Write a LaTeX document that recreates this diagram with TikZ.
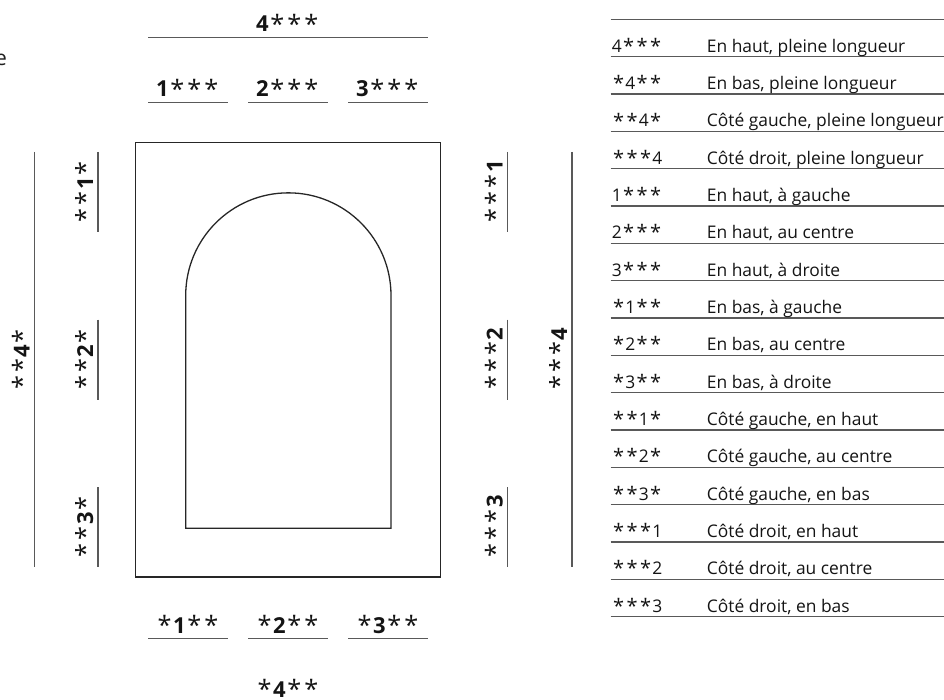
\documentclass[tikz,border=0pt]{standalone}
\usepackage{fontspec}
\setmainfont{Open Sans}
\usepackage{graphicx}
\newcommand\st{\kern0.07em\raisebox{-0.12ex}{\scalebox{1.15}{*}}\kern0.07em}
\begin{document}
\begin{tikzpicture}[x=1pt,y=-1pt,
  lbl/.style={font=\fontsize{22}{22}\selectfont, text=black!92, inner sep=0pt, anchor=base},
  slbl/.style={lbl, rotate=90},
  tbl/.style={font=\fontsize{17.4}{18}\selectfont, text=black!92, inner sep=0pt, anchor=base west},
  uline/.style={draw=black!65, line width=1.2pt},
  tline/.style={draw=black!65, line width=1.3pt},
  frame/.style={draw=black!85, line width=1.3pt},
]
\useasboundingbox (0,0) rectangle (944,700);
% fragment of text at left edge
\node[font=\fontsize{21}{21}\selectfont, text=black!88, inner sep=0pt, anchor=base east] (frag) at (7,66) {e};

% frame and arch
\draw[frame] (135.7,142.3) rectangle (440.7,577);
\draw[frame] (185.7,528.3) -- (185.7,295.5) arc[start angle=180, end angle=360, radius=102.65] -- (391,528.3) -- cycle;

% top labels
\node[lbl] (t4) at (288,31.7) {\textbf{4}\st\st\st};
\draw[uline] (148,37.3) -- (428,37.3);
\node[lbl] (t1) at (188,97) {\textbf{1}\st\st\st};
\node[lbl] (t2) at (288,97) {\textbf{2}\st\st\st};
\node[lbl] (t3) at (388,97) {\textbf{3}\st\st\st};
\draw[uline] (148,102.7) -- (228,102.7);
\draw[uline] (248,102.7) -- (328,102.7);
\draw[uline] (348,102.7) -- (428,102.7);

% bottom labels
\node[lbl] (b1) at (188,633.3) {\st\textbf{1}\st\st};
\node[lbl] (b2) at (288,633.3) {\st\textbf{2}\st\st};
\node[lbl] (b3) at (388,633.3) {\st\textbf{3}\st\st};
\draw[uline] (148,638.3) -- (228,638.3);
\draw[uline] (248,638.3) -- (328,638.3);
\draw[uline] (348,638.3) -- (428,638.3);
\node[lbl] (b4) at (288,697) {\st\textbf{4}\st\st};

% left labels
\node[slbl] (l4) at (29.7,359.5) {\st\st\textbf{4}\st};
\draw[uline] (34.7,152) -- (34.7,567);
\node[slbl] (l1) at (93,192) {\st\st\textbf{1}\st};
\node[slbl] (l2) at (93,359.5) {\st\st\textbf{2}\st};
\node[slbl] (l3) at (93,527) {\st\st\textbf{3}\st};
\draw[uline] (98,152) -- (98,232);
\draw[uline] (98,319.5) -- (98,399.5);
\draw[uline] (98,487) -- (98,567);

% right labels
\node[slbl] (r1) at (502.7,192) {\st\st\st\textbf{1}};
\node[slbl] (r2) at (502.7,359.5) {\st\st\st\textbf{2}};
\node[slbl] (r3) at (502.7,527) {\st\st\st\textbf{3}};
\draw[uline] (507.7,152) -- (507.7,232);
\draw[uline] (507.7,319.5) -- (507.7,399.5);
\draw[uline] (507.7,487) -- (507.7,567);
\node[slbl] (r4) at (567,359.5) {\st\st\st\textbf{4}};
\draw[uline] (572,152) -- (572,567);

% table
\foreach \k in {0,...,16}{
  \draw[tline] (610.7,{19.3+37.33*\k}) -- (944,{19.3+37.33*\k});
}
\foreach \c/\d [count=\k from 1] in {
  {4\st\st\st}/{En haut, pleine longueur},
  {\st4\st\st}/{En bas, pleine longueur},
  {\st\st4\st}/{Côté gauche, pleine longueur},
  {\st\st\st4}/{Côté droit, pleine longueur},
  {1\st\st\st}/{En haut, à gauche},
  {2\st\st\st}/{En haut, au centre},
  {3\st\st\st}/{En haut, à droite},
  {\st1\st\st}/{En bas, à gauche},
  {\st2\st\st}/{En bas, au centre},
  {\st3\st\st}/{En bas, à droite},
  {\st\st1\st}/{Côté gauche, en haut},
  {\st\st2\st}/{Côté gauche, au centre},
  {\st\st3\st}/{Côté gauche, en bas},
  {\st\st\st1}/{Côté droit, en haut},
  {\st\st\st2}/{Côté droit, au centre},
  {\st\st\st3}/{Côté droit, en bas}}{
  \node[tbl] (c\k) at (611.7,{19.3+37.33*\k-4.4}) {\c};
  \node[tbl] (d\k) at (706.7,{19.3+37.33*\k-4.4}) {\d};
}
\end{tikzpicture}
\end{document}
